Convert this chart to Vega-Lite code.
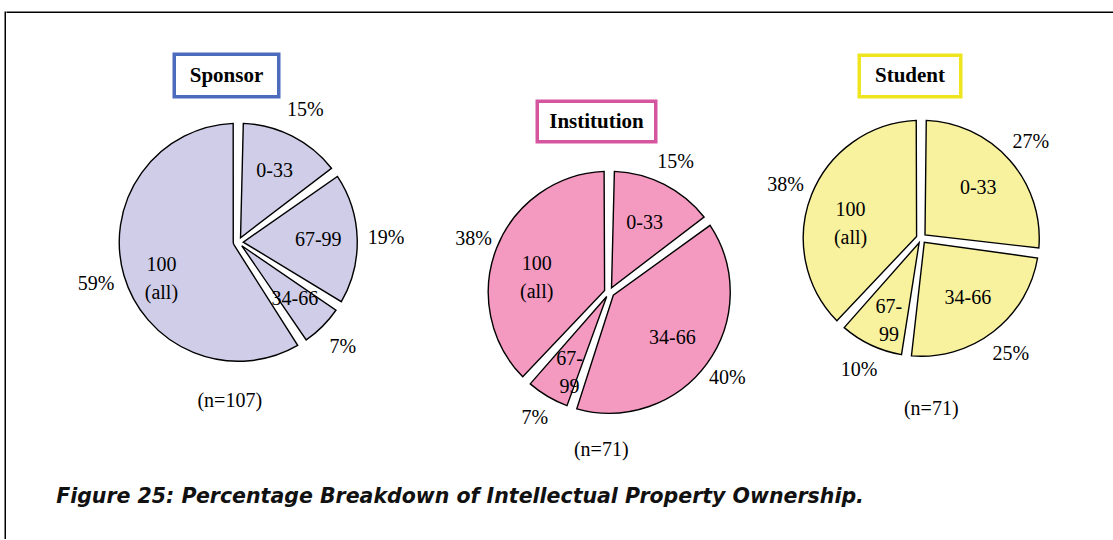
{
  "$schema": "https://vega.github.io/schema/vega-lite/v6.json",
  "padding": {"left": 4.25, "top": 11.25, "right": 0, "bottom": 0},
  "background": "white",
  "config": {
    "view": {"stroke": null},
    "text": {"font": "Liberation Serif", "fontSize": 20, "color": "#000"}
  },
  "datasets": {
    "slices": [
      {"group": "Sponsor", "k": 1, "category": "0-33", "share": 0.15},
      {"group": "Sponsor", "k": 2, "category": "67-99", "share": 0.19},
      {"group": "Sponsor", "k": 3, "category": "34-66", "share": 0.07},
      {"group": "Sponsor", "k": 4, "category": "100\n(all)", "share": 0.59},
      {"group": "Institution", "k": 1, "category": "0-33", "share": 0.15},
      {"group": "Institution", "k": 2, "category": "34-66", "share": 0.40},
      {"group": "Institution", "k": 3, "category": "67-\n99", "share": 0.07},
      {"group": "Institution", "k": 4, "category": "100\n(all)", "share": 0.38},
      {"group": "Student", "k": 1, "category": "0-33", "share": 0.27},
      {"group": "Student", "k": 2, "category": "34-66", "share": 0.25},
      {"group": "Student", "k": 3, "category": "67-\n99", "share": 0.10},
      {"group": "Student", "k": 4, "category": "100\n(all)", "share": 0.38}
    ],
    "panels": [
      {"group": "Sponsor", "n": "(n=107)"},
      {"group": "Institution", "n": "(n=71)"},
      {"group": "Student", "n": "(n=71)"}
    ],
    "caption": [
      {"text": "Figure 25: Percentage Breakdown of Intellectual Property Ownership."}
    ]
  },
  "hconcat": [
    {"width": 0.001, "height": 526, "data": {"values": []}, "mark": "point", "view": {"stroke": "#000", "strokeWidth": 1.5}},
    {
      "vconcat": [
        {"width": 1105, "height": 0.001, "data": {"values": []}, "mark": "point", "view": {"stroke": "#000", "strokeWidth": 1.5}},
        {
          "hconcat": [
            {"width": 16.25, "height": 1, "data": {"values": []}, "mark": "point"},
            {
              "vconcat": [
                {"width": 1, "height": 38.25, "data": {"values": []}, "mark": "point"},
                {
                  "hconcat": [
                    {"width": 148, "height": 40, "data": {"values": []}, "mark": "point"},
                    {"width": 104.5, "height": 42.5, "data": {"name": "panels"}, "transform": [{"filter": "datum.group == 'Sponsor'"}],
                     "mark": {"type": "text", "fontWeight": "bold", "fontSize": 21}, "encoding": {"text": {"field": "group"}},
                     "view": {"stroke": "#4d6bbd", "strokeWidth": 3.5}}
                  ], "spacing": 0
                },
                {
                  "width": 428, "height": 286,
                  "data": {"name": "slices"}, "transform": [{"filter": "datum.group == 'Sponsor'"}],
                  "encoding": {"theta": {"field": "share", "type": "quantitative", "stack": true}, "order": {"field": "k", "type": "quantitative"}},
                  "layer": [
                    {"mark": {"type": "arc", "outerRadius": 119, "innerRadius": 5, "padAngle": 0.085, "fill": "#cfcde8", "stroke": "#000", "strokeWidth": 1.4}},
                    {"mark": {"type": "text", "radius": 80, "lineBreak": "\n", "lineHeight": 28}, "encoding": {"text": {"field": "category"}}},
                    {"mark": {"type": "text", "radius": 148}, "encoding": {"text": {"field": "share", "type": "quantitative", "format": ".0%"}}}
                  ]
                },
                {"width": 411, "height": 31, "data": {"name": "panels"}, "transform": [{"filter": "datum.group == 'Sponsor'"}],
                 "mark": {"type": "text"}, "encoding": {"text": {"field": "n"}}}
              ], "spacing": 0
            },
            {
              "vconcat": [
                {"width": 1, "height": 85.25, "data": {"values": []}, "mark": "point"},
                {
                  "hconcat": [
                    {"width": 83, "height": 40, "data": {"values": []}, "mark": "point"},
                    {"width": 118.5, "height": 40.5, "data": {"name": "panels"}, "transform": [{"filter": "datum.group == 'Institution'"}],
                     "mark": {"type": "text", "fontWeight": "bold", "fontSize": 21}, "encoding": {"text": {"field": "group"}},
                     "view": {"stroke": "#d6559f", "strokeWidth": 3.5}}
                  ], "spacing": 0
                },
                {
                  "width": 314, "height": 296,
                  "data": {"name": "slices"}, "transform": [{"filter": "datum.group == 'Institution'"}],
                  "encoding": {"theta": {"field": "share", "type": "quantitative", "stack": true}, "order": {"field": "k", "type": "quantitative"}},
                  "layer": [
                    {"mark": {"type": "arc", "outerRadius": 121, "innerRadius": 5, "padAngle": 0.085, "fill": "#f49ac1", "stroke": "#000", "strokeWidth": 1.4}},
                    {"mark": {"type": "text", "radius": 78, "lineBreak": "\n", "lineHeight": 28}, "encoding": {"text": {"field": "category"}}},
                    {"mark": {"type": "text", "radius": 146}, "encoding": {"text": {"field": "share", "type": "quantitative", "format": ".0%"}}}
                  ]
                },
                {
                  "hconcat": [
                    {"width": 16, "height": 10, "data": {"values": []}, "mark": "point"},
                    {"width": 266, "height": 14, "data": {"name": "panels"}, "transform": [{"filter": "datum.group == 'Institution'"}],
                     "mark": {"type": "text"}, "encoding": {"text": {"field": "n"}}}
                  ], "spacing": 0
                }
              ], "spacing": 0
            },
            {
              "vconcat": [
                {"width": 1, "height": 39.25, "data": {"values": []}, "mark": "point"},
                {
                  "hconcat": [
                    {"width": 90, "height": 40, "data": {"values": []}, "mark": "point"},
                    {"width": 101.5, "height": 41.5, "data": {"name": "panels"}, "transform": [{"filter": "datum.group == 'Student'"}],
                     "mark": {"type": "text", "fontWeight": "bold", "fontSize": 21}, "encoding": {"text": {"field": "group"}},
                     "view": {"stroke": "#efe51f", "strokeWidth": 3.5}}
                  ], "spacing": 0
                },
                {
                  "width": 308, "height": 278,
                  "data": {"name": "slices"}, "transform": [{"filter": "datum.group == 'Student'"}],
                  "encoding": {"theta": {"field": "share", "type": "quantitative", "stack": true}, "order": {"field": "k", "type": "quantitative"}},
                  "layer": [
                    {"mark": {"type": "arc", "outerRadius": 118, "innerRadius": 5, "padAngle": 0.085, "fill": "#f8f29e", "stroke": "#000", "strokeWidth": 1.4}},
                    {"mark": {"type": "text", "radius": 76, "lineBreak": "\n", "lineHeight": 28}, "encoding": {"text": {"field": "category"}}},
                    {"mark": {"type": "text", "radius": 146}, "encoding": {"text": {"field": "share", "type": "quantitative", "format": ".0%"}}}
                  ]
                },
                {"width": 328, "height": 56, "data": {"name": "panels"}, "transform": [{"filter": "datum.group == 'Student'"}],
                 "mark": {"type": "text"}, "encoding": {"text": {"field": "n"}}}
              ], "spacing": 0
            }
          ], "spacing": 0
        },
        {"width": 905.5, "height": 74, "data": {"name": "caption"},
         "mark": {"type": "text", "font": "DejaVu Sans", "fontWeight": "bold", "fontStyle": "italic", "fontSize": 20.5, "color": "#111"},
         "encoding": {"text": {"field": "text"}}}
      ], "spacing": 0
    }
  ],
  "spacing": 0
}
